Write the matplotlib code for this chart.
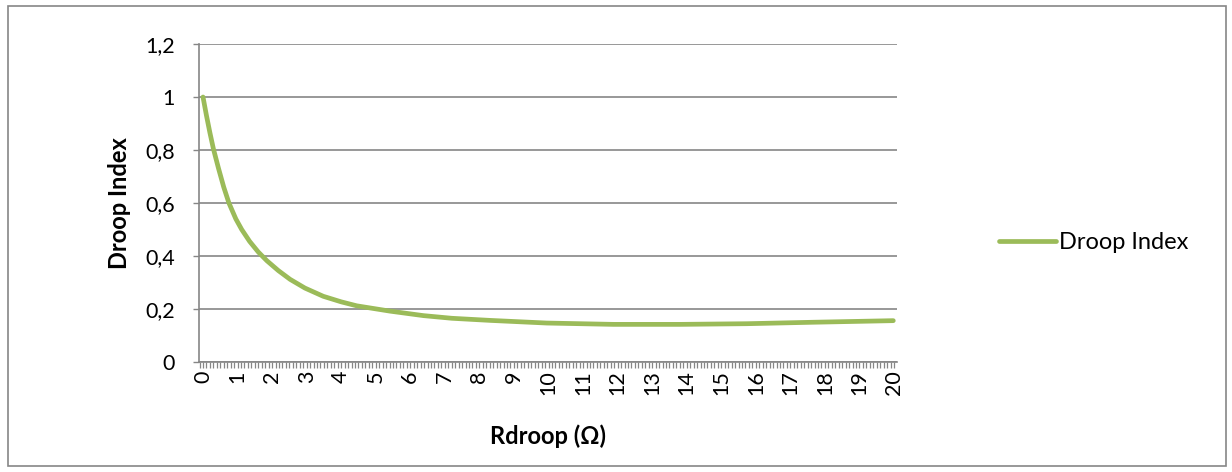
import numpy as np
import matplotlib.pyplot as plt
from matplotlib.patches import Rectangle
from matplotlib.ticker import MultipleLocator

# values
rdroop = [0.0, 0.1, 0.2, 0.3, 0.45, 0.6, 0.75, 0.95, 1.12, 1.35, 1.6, 1.85,
          2.18, 2.52, 2.95, 3.48, 4.0, 4.45, 5.41, 6.38, 7.2, 8.31, 9.95,
          11.88, 13.81, 15.74, 17.66, 19.98]
droop_index = [1.0, 0.93, 0.865, 0.805, 0.73, 0.66, 0.60, 0.54, 0.50, 0.455,
               0.415, 0.382, 0.345, 0.312, 0.279, 0.248, 0.227, 0.212, 0.192,
               0.175, 0.165, 0.157, 0.147, 0.142, 0.142, 0.1445, 0.150, 0.156]
x_labels = [str(i) for i in range(21)]
y_ticks = [0, 0.2, 0.4, 0.6, 0.8, 1.0, 1.2]
y_labels = ['0', '0,2', '0,4', '0,6', '0,8', '1', '1,2']

plt.rcParams['font.family'] = ['Lato', 'DejaVu Sans']
grey = '#868686'

fig = plt.figure(figsize=(12.32, 4.72), dpi=100)
ax = fig.add_axes([199 / 1232, 1 - 362 / 472, 698 / 1232, 318 / 472])

ax.plot(rdroop, droop_index, color='#9BBB59', lw=3.4, solid_capstyle='round',
        solid_joinstyle='round', label='Droop Index')

ax.set_xlim(-0.116, 20.087)
ax.set_ylim(0, 1.2)
ax.set_yticks(y_ticks)
ax.set_yticklabels(y_labels, fontsize=15.5)
ax.set_xticks(range(21))
ax.set_xticklabels(x_labels, rotation=90, fontsize=15.5)
ax.xaxis.set_minor_locator(MultipleLocator(0.1))
ax.grid(axis='y', color=grey, lw=1.2)
ax.set_axisbelow(True)

for side in ['top', 'right']:
    ax.spines[side].set_visible(False)
for side in ['left', 'bottom']:
    ax.spines[side].set_color(grey)
    ax.spines[side].set_linewidth(1.2)

ax.tick_params(axis='y', length=4.5, width=1, color=grey, pad=13)
ax.tick_params(axis='x', which='both', length=4.5, width=0.9, color=grey,
               pad=1.5)

ax.set_ylabel('Droop Index', fontsize=17, fontweight='bold', labelpad=10)
ax.set_xlabel('Rdroop (Ω)', fontsize=17, fontweight='bold', labelpad=21)

fig.legend(loc='center left', bbox_to_anchor=(999 / 1232, 1 - 243 / 472),
           frameon=False, fontsize=17, handlelength=2.4, handletextpad=0.15,
           borderaxespad=0, borderpad=0)

fig.patches.append(Rectangle((8 / 1232, 6 / 472), 1218 / 1232, 460 / 472,
                             transform=fig.transFigure, fill=False,
                             edgecolor=grey, lw=1.2))

fig.savefig('out.png', dpi=100)
